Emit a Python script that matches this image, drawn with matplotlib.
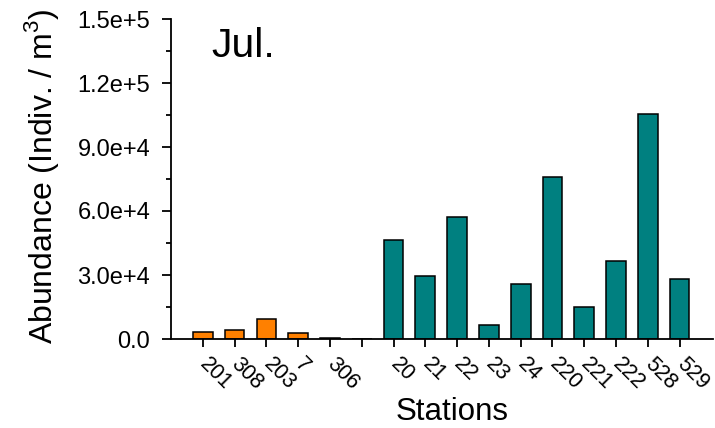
import numpy as np
import matplotlib
matplotlib.use("Agg")
import matplotlib.pyplot as plt
from matplotlib.ticker import MultipleLocator, FuncFormatter

plt.rcParams["font.family"] = ["Liberation Sans", "DejaVu Sans"]
plt.rcParams["mathtext.fontset"] = "custom"
plt.rcParams["mathtext.rm"] = "Liberation Sans"

stations = ["201", "308", "203", "7", "306", "", "20", "21", "22", "23",
            "24", "220", "221", "222", "528", "529"]
abundance = [3400, 4200, 9400, 2850, 500, 0, 46400, 29500, 57200, 6400,
             25800, 76000, 14800, 36700, 105500, 28300]
groups = ["a", "a", "a", "a", "a", "a", "b", "b", "b", "b",
          "b", "b", "b", "b", "b", "b"]
group_colors = {"a": "#FF8000", "b": "#008080"}


def sci_fmt(v, pos):
    if v == 0:
        return "0.0"
    m, e = ("%.1e" % v).split("e")
    return "%se%+d" % (m, int(e))


W, H = 715, 428
fig = plt.figure(figsize=(W / 100, H / 100), dpi=100)
ax = fig.add_axes([171 / W, 1 - 339 / H, (713 - 171) / W, (339 - 19) / H])

x = np.arange(len(stations))
colors = [group_colors[g] for g in groups]
ax.bar(x, abundance, width=0.62, color=colors, edgecolor="black", linewidth=1.1)

ax.set_xlim(-1.0, 16.05)
ax.set_ylim(0, 150000)
ax.yaxis.set_major_locator(MultipleLocator(30000))
ax.yaxis.set_minor_locator(MultipleLocator(15000))
ax.yaxis.set_major_formatter(FuncFormatter(sci_fmt))
ax.set_xticks(x)
ax.set_xticklabels(stations, rotation=-45, rotation_mode="anchor",
                   ha="left", va="center", fontsize=15.5)

for s in ["top", "right"]:
    ax.spines[s].set_visible(False)
for s in ["left", "bottom"]:
    ax.spines[s].set_linewidth(1.3)
ax.tick_params(axis="y", which="major", length=6.5, width=1.3, labelsize=17, pad=8.5)
ax.tick_params(axis="y", which="minor", length=3.5, width=1.3)
ax.tick_params(axis="x", which="major", length=5.8, width=1.3, pad=10)

ax.set_ylabel("Abundance (Indiv. / m$^3$)", fontsize=23)
ax.yaxis.label.set_va("baseline")
ax.yaxis.set_label_coords((52 - 171) / 542, (339 - 176) / 320)
ax.set_xlabel("Stations", fontsize=22.5)
ax.xaxis.label.set_va("baseline")
ax.xaxis.set_label_coords((452 - 171) / 542, (339 - 420) / 320)
ax.text(0.075, 0.882, "Jul.", transform=ax.transAxes, fontsize=29.5, va="baseline")

fig.savefig("out.png", dpi=100)
